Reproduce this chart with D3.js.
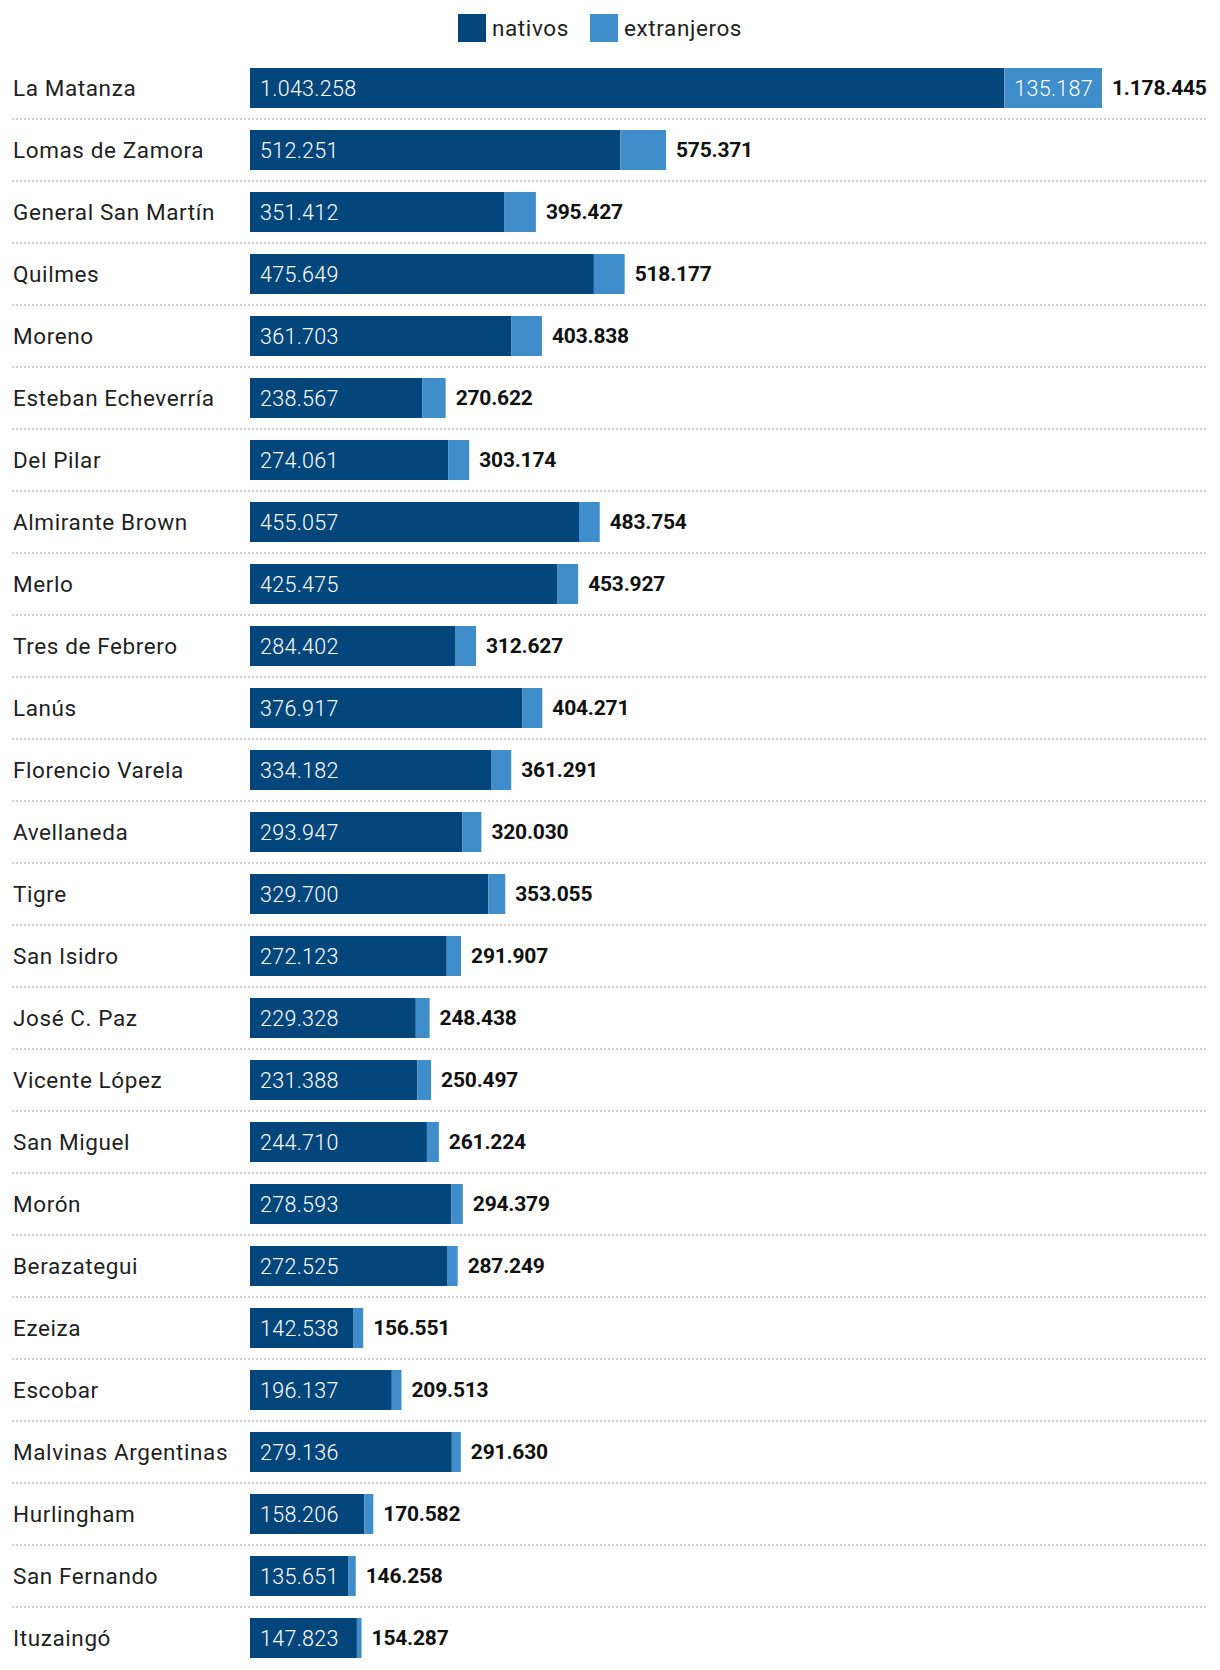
<!DOCTYPE html>
<html><head><meta charset="utf-8">
<script src="https://cdn.jsdelivr.net/npm/d3@7"></script>
<style>body{margin:0;background:#fff}svg{display:block}</style>
</head><body>
<svg id="c" width="1220" height="1670"></svg>
<script>
const categories = ["La Matanza","Lomas de Zamora","General San Martín","Quilmes","Moreno","Esteban Echeverría","Del Pilar","Almirante Brown","Merlo","Tres de Febrero","Lanús","Florencio Varela","Avellaneda","Tigre","San Isidro","José C. Paz","Vicente López","San Miguel","Morón","Berazategui","Ezeiza","Escobar","Malvinas Argentinas","Hurlingham","San Fernando","Ituzaingó"];
const nativos = [1043258,512251,351412,475649,361703,238567,274061,455057,425475,284402,376917,334182,293947,329700,272123,229328,231388,244710,278593,272525,142538,196137,279136,158206,135651,147823];
const totales = [1178445,575371,395427,518177,403838,270622,303174,483754,453927,312627,404271,361291,320030,353055,291907,248438,250497,261224,294379,287249,156551,209513,291630,170582,146258,154287];
const extranjeros = totales.map((t,i)=>t-nativos[i]);
const seriesNames = ["nativos","extranjeros"];
const colors = ["#03467b","#3f8dca"];

const fmt = v => d3.format(",")(v).replace(/,/g,".");
const data = categories.map((c,i)=>({c, n:nativos[i], e:extranjeros[i], t:totales[i]}));
const svg = d3.select("#c");
const font = "Roboto, 'Noto Sans', sans-serif";

const x = d3.scaleLinear().domain([0, d3.max(totales)]).range([250, 1102]);
const y = d3.scaleBand().domain(categories).range([46, 46 + 62*26 + 22]).padding(22/62);
const bw = y.bandwidth();

// legend
const lg = svg.append("g");
const lx = [458, 590];
seriesNames.forEach((s,i)=>{
  lg.append("rect").attr("x",lx[i]).attr("y",14).attr("width",28).attr("height",28).attr("fill",colors[i]);
  lg.append("text").attr("x",lx[i]+34).attr("y",36).attr("font-family",font).attr("font-size",22.5)
    .attr("letter-spacing",0.6).attr("fill","#222").text(s);
});

// separators
svg.append("g").selectAll("line").data(data.slice(0,-1)).join("line")
  .attr("x1",12).attr("x2",1208)
  .attr("y1",d=>y(d.c)+bw+11).attr("y2",d=>y(d.c)+bw+11)
  .attr("stroke","#d0d0d0").attr("stroke-width",2).attr("stroke-dasharray","2,2");

const rows = svg.append("g").selectAll("g").data(data).join("g");
rows.append("text").attr("x",13).attr("y",d=>y(d.c)+bw/2).attr("dy","0.35em")
  .attr("font-family",font).attr("font-size",22.5).attr("letter-spacing",0.6).attr("fill","#1f1f1f").text(d=>d.c);
rows.append("rect").attr("x",x(0)).attr("y",d=>y(d.c)).attr("height",bw)
  .attr("width",d=>x(d.n)-x(0)).attr("fill",colors[0]);
rows.append("rect").attr("x",d=>x(d.n)).attr("y",d=>y(d.c)).attr("height",bw)
  .attr("width",d=>x(d.t)-x(d.n)).attr("fill",colors[1]);
rows.append("text").attr("x",x(0)+10).attr("y",d=>y(d.c)+bw/2).attr("dy","0.35em")
  .attr("font-family",font).attr("font-weight",300).attr("font-size",21.5).attr("letter-spacing",0.3).attr("fill","#fff").text(d=>fmt(d.n));
rows.filter(d=>x(d.t)-x(d.n)>80).append("text").attr("x",d=>x(d.n)+10).attr("y",d=>y(d.c)+bw/2).attr("dy","0.35em")
  .attr("font-family",font).attr("font-weight",300).attr("font-size",21.5).attr("letter-spacing",0.3).attr("fill","#fff").text(d=>fmt(d.e));
rows.append("text").attr("x",d=>x(d.t)+10).attr("y",d=>y(d.c)+bw/2).attr("dy","0.35em")
  .attr("font-family",font).attr("font-weight",700).attr("font-size",21).attr("letter-spacing",-0.2).attr("fill","#111").text(d=>fmt(d.t));
</script>
</body></html>
